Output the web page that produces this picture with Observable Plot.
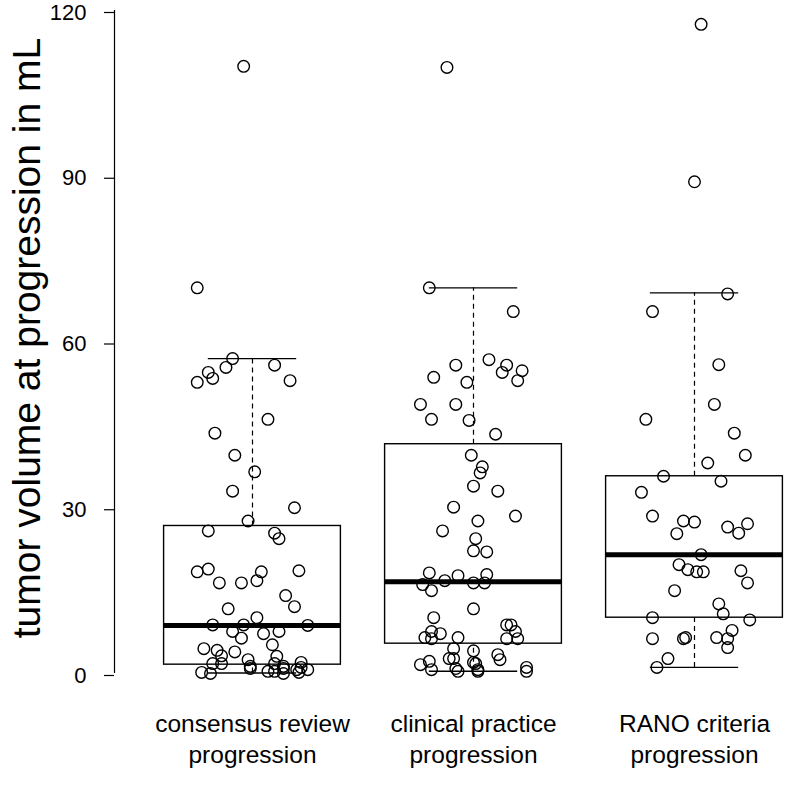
<!DOCTYPE html>
<html><head><meta charset="utf-8">
<script src="https://cdn.jsdelivr.net/npm/d3@7"></script>
<script src="https://cdn.jsdelivr.net/npm/@observablehq/plot@0.6"></script>
<style>body{margin:0;background:#fff} svg{display:block}</style>
</head><body><div id="chart"></div>
<script>
const groups = ["consensus review\nprogression", "clinical practice\nprogression", "RANO criteria\nprogression"];
const yTitle = "tumor volume at progression in mL";
const yTicks = [0, 30, 60, 90, 120];

// box statistics
const q1 = [1.6, 5.4, 10.1];
const medians = [8.7, 16.6, 21.5];
const q3 = [26.7, 41.5, 35.7];
const whiskerLow = [0.1, 0.4, 1.1];
const whiskerHigh = [57.0, 69.8, 68.9];

// points (values) and horizontal jitter (in category units)
const consensusValues = [109.9,69.8,57.0,55.8,55.4,54.5,53.4,52.7,53.0,46.0,43.5,39.5,36.5,33.0,30.0,27.6,25.8,25.4,24.4,18.4,18.9,18.4,18.6,16.4,16.4,16.8,14.1,12.1,11.7,10.1,8.8,8.8,8.7,7.6,6.4,7.2,7.6,5.2,4.5,4.2,3.2,3.9,2.5,3.1,1.8,1.8,1.3,0.9,1.8,1.3,2.0,0.2,0.0,0.4,0.4,0.0,0.9,0.7,1.1,0.7,0.2];
const consensusJitter = [-0.04,-0.25,-0.09,0.10,-0.12,-0.20,-0.18,-0.25,0.17,0.07,-0.17,-0.08,0.01,-0.09,0.19,-0.02,-0.20,0.10,0.12,-0.25,-0.20,0.04,0.21,-0.15,-0.05,0.02,0.15,0.19,-0.11,0.02,-0.18,-0.04,0.25,-0.09,-0.05,0.05,0.12,0.09,-0.22,-0.16,-0.14,-0.08,-0.02,0.11,-0.18,-0.14,-0.01,-0.01,0.10,0.14,0.22,-0.23,-0.19,0.07,0.10,0.14,0.14,0.20,0.22,0.25,0.21];

const clinicalValues = [109.7,69.8,65.5,56.8,55.8,54.5,54.8,55.8,53.6,52.7,53.0,48.7,48.7,46.0,45.8,43.3,39.5,37.4,36.3,33.9,33.0,30.1,28.5,27.6,25.8,24.4,22.2,22.0,18.2,17.7,17.9,16.8,16.4,16.4,16.1,15.0,11.7,10.1,8.8,8.8,7.6,7.2,7.6,6.5,6.3,6.5,6.3,6.3,4.5,4.1,3.4,2.5,2.7,2.7,1.6,2.2,0.7,0.9,0.4,2.0,1.8,0.7,0.4,1.1,0.4];
const clinicalJitter = [-0.12,-0.20,0.18,0.07,0.15,0.13,0.22,-0.08,-0.18,-0.03,0.20,-0.24,-0.08,-0.19,-0.02,0.10,-0.01,0.04,0.03,0.00,0.11,-0.09,0.19,0.02,-0.14,0.01,0.00,0.06,-0.20,-0.07,0.06,-0.13,0.00,0.05,-0.23,-0.19,0.00,-0.18,0.15,0.17,-0.19,-0.15,0.19,-0.22,-0.19,-0.07,0.15,0.20,-0.09,0.00,0.11,0.12,-0.11,-0.09,-0.24,-0.20,-0.19,-0.08,-0.07,0.00,0.01,0.02,0.02,0.24,0.24];

const ranoValues = [117.5,89.0,68.7,65.5,55.9,48.7,46.0,43.5,39.5,38.1,35.7,34.8,32.8,28.5,27.6,27.4,26.5,27.1,25.4,25.3,21.5,19.7,18.8,18.4,18.4,18.6,16.4,15.0,12.6,10.8,10.1,9.7,7.8,6.3,6.3,6.5,6.5,6.3,4.7,2.7,1.1];
const ranoJitter = [0.03,0.00,0.15,-0.19,0.11,0.09,-0.22,0.18,0.23,0.06,-0.14,0.12,-0.24,-0.19,-0.05,0.00,0.15,0.24,0.20,-0.08,0.03,-0.07,-0.03,0.01,0.04,0.21,0.24,-0.09,0.11,0.13,-0.19,0.25,0.17,-0.19,-0.05,-0.04,0.10,0.15,0.15,-0.12,-0.17];

const boxes = groups.map((g, k) => ({i: k + 1, q1: q1[k], median: medians[k], q3: q3[k], lo: whiskerLow[k], hi: whiskerHigh[k]}));
const points = [];
[[consensusValues, consensusJitter], [clinicalValues, clinicalJitter], [ranoValues, ranoJitter]].forEach(([vals, jit], k) => {
  vals.forEach((v, n) => points.push({i: k + 1, v, j: jit[n]}));
});

const xDomain = [0.3756, 3.4163];
const halfBox = 0.4, halfStaple = 0.2;

const chart = Plot.plot({
  width: 786,
  height: 796,
  marginLeft: 114,
  marginRight: 0,
  marginTop: 10,
  marginBottom: 123,
  style: {fontFamily: "'Liberation Sans', Arial, sans-serif", background: "white", color: "black", overflow: "visible"},
  x: {type: "linear", domain: xDomain},
  y: {domain: [0, 120]},
  marks: [
    Plot.ruleX([xDomain[0]], {y1: yTicks[0], y2: yTicks[yTicks.length - 1], stroke: "black", strokeWidth: 1.2}),
    Plot.axisY({ticks: yTicks, tickSize: 10, tickPadding: 18, fontSize: 22, label: null, strokeWidth: 1.2, dy: 2}),
    Plot.axisX({ticks: [1, 2, 3], tickFormat: i => groups[i - 1], tickSize: 0, tickPadding: 37, fontSize: 24.5, lineHeight: 1.25, label: null}),
    Plot.text([yTitle], {frameAnchor: "left", dx: -87, dy: -4, rotate: -90, fontSize: 39, textAnchor: "middle", lineAnchor: "middle"}),
    Plot.ruleX(boxes, {x: "i", y1: "q3", y2: "hi", stroke: "black", strokeWidth: 1.2, strokeDasharray: "5,4"}),
    Plot.ruleX(boxes, {x: "i", y1: "lo", y2: "q1", stroke: "black", strokeWidth: 1.2, strokeDasharray: "5,4"}),
    Plot.ruleY(boxes, {y: "hi", x1: d => d.i - halfStaple, x2: d => d.i + halfStaple, stroke: "black", strokeWidth: 1.4}),
    Plot.ruleY(boxes, {y: "lo", x1: d => d.i - halfStaple, x2: d => d.i + halfStaple, stroke: "black", strokeWidth: 1.4}),
    Plot.rect(boxes, {x1: d => d.i - halfBox, x2: d => d.i + halfBox, y1: "q1", y2: "q3", fill: "none", stroke: "black", strokeWidth: 1.4}),
    Plot.ruleY(boxes, {y: "median", x1: d => d.i - halfBox, x2: d => d.i + halfBox, stroke: "black", strokeWidth: 5}),
    Plot.dot(points, {x: d => d.i + d.j, y: "v", r: 5.8, fill: "none", stroke: "black", strokeWidth: 1.4})
  ]
});
document.getElementById("chart").append(chart);
</script>
</body></html>
